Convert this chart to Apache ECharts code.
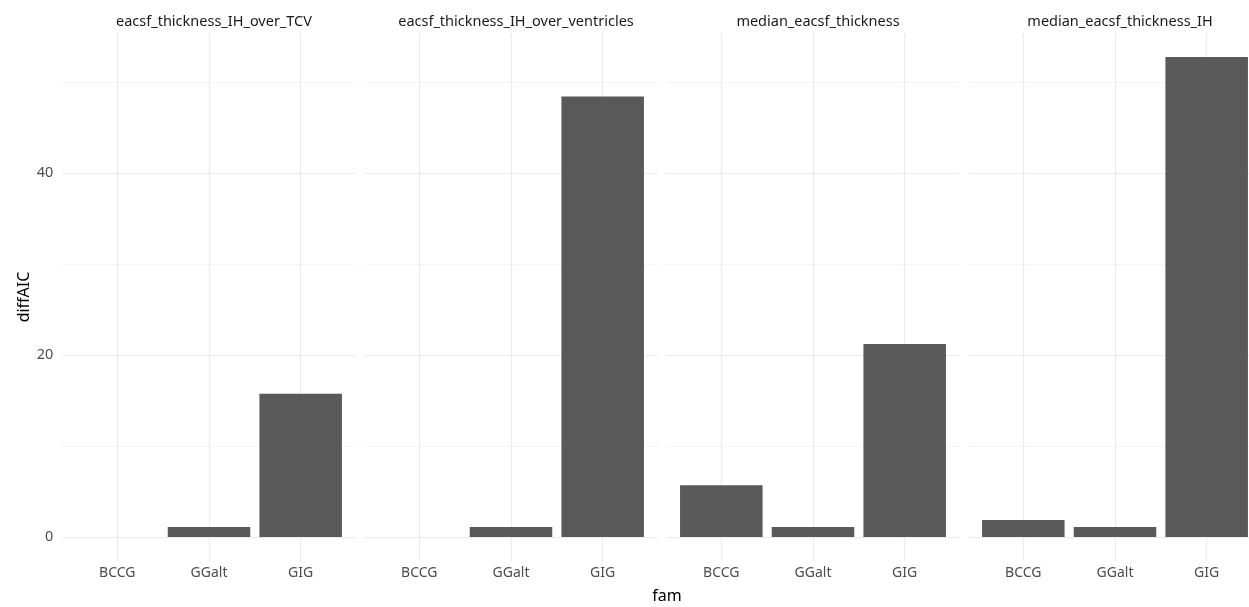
<!DOCTYPE html>
<html><head><meta charset="utf-8">
<script src="https://cdn.jsdelivr.net/npm/echarts@6/dist/echarts.min.js"></script>
<style>html,body{margin:0;padding:0;background:#fff}#c{width:1249px;height:607px}</style>
</head><body><div id="c"></div>
<script>
const facets = ['eacsf_thickness_IH_over_TCV', 'eacsf_thickness_IH_over_ventricles', 'median_eacsf_thickness', 'median_eacsf_thickness_IH'];
const categories = ['BCCG', 'GGalt', 'GIG'];
const valuesTCV = [0, 1.1, 15.75];
const valuesVentricles = [0, 1.1, 48.4];
const valuesMedian = [5.7, 1.1, 21.2];
const valuesMedianIH = [1.87, 1.1, 52.75];
const yMajorTicks = [0, 20, 40];
const yMinorTicks = [10, 30, 50];
const xTitle = 'fam';
const yTitle = 'diffAIC';

const allValues = [valuesTCV, valuesVentricles, valuesMedian, valuesMedianIH];
const dataMax = Math.max(...allValues.flat());
const yMin = -0.05 * dataMax, yMax = 1.05 * dataMax;

const FONT = '"Noto Sans", "Open Sans", sans-serif';
const panelLeft0 = 62.3, panelStep = 302, panelWidth = 293.4, panelTop = 33, panelHeight = 528;

const grid = [], xAxis = [], yAxis = [], series = [], title = [];
allValues.forEach((vals, p) => {
  const left = panelLeft0 + p * panelStep;
  grid.push({ left: left, top: panelTop, width: panelWidth, height: panelHeight, containLabel: false, outerBoundsMode: 'none' });
  xAxis.push({
    type: 'value', gridIndex: p, min: -0.6, max: 2.6,
    splitLine: { show: false }, axisLine: { show: false }, axisTick: { show: false },
    axisLabel: { customValues: categories.map((c, i) => i), formatter: v => categories[Math.round(v)] || '',
      color: '#4d4d4d', fontSize: 14, fontFamily: FONT, margin: 5, hideOverlap: false }
  });
  yAxis.push({
    type: 'value', gridIndex: p, min: yMin, max: yMax,
    splitLine: { show: false }, axisLine: { show: false }, axisTick: { show: false },
    axisLabel: { show: p === 0, customValues: yMajorTicks, color: '#4d4d4d', fontSize: 14.5, fontFamily: FONT, margin: 9 },
    name: p === 0 ? yTitle : '', nameLocation: 'middle', nameGap: 30,
    nameTextStyle: { fontSize: 16, color: '#000', fontFamily: FONT }
  });
  // minor gridlines
  series.push({
    type: 'line', xAxisIndex: p, yAxisIndex: p, data: [], z: 0, silent: true,
    markLine: { z: 0, symbol: 'none', silent: true, animation: false, label: { show: false },
      lineStyle: { color: '#f4f4f4', width: 1, type: 'solid' },
      data: yMinorTicks.map(v => ({ yAxis: v })) }
  });
  // major gridlines
  series.push({
    type: 'line', xAxisIndex: p, yAxisIndex: p, data: [], z: 1, silent: true,
    markLine: { z: 1, symbol: 'none', silent: true, animation: false, label: { show: false },
      lineStyle: { color: '#ebebeb', width: 1.2, type: 'solid' },
      data: categories.map((c, i) => ({ xAxis: i })).concat(yMajorTicks.map(v => ({ yAxis: v }))) }
  });
  series.push({
    type: 'bar', xAxisIndex: p, yAxisIndex: p, z: 3, barWidth: '90%',
    data: vals.map((v, i) => [i, v]),
    itemStyle: { color: '#595959' }, animation: false
  });
  title.push({
    text: facets[p], left: left + panelWidth / 2, top: 9, textAlign: 'center',
    textStyle: { fontSize: 14.5, fontWeight: 'normal', color: '#1a1a1a', fontFamily: FONT }
  });
});
title.push({
  text: xTitle, left: (panelLeft0 + panelLeft0 + 3 * panelStep + panelWidth) / 2, top: 583, textAlign: 'center',
  textStyle: { fontSize: 16, fontWeight: 'normal', color: '#000', fontFamily: FONT }
});

const chart = echarts.init(document.getElementById('c'), null, { renderer: 'canvas' });
chart.setOption({ animation: false, backgroundColor: '#fff', title, grid, xAxis, yAxis, series });
</script></body></html>
